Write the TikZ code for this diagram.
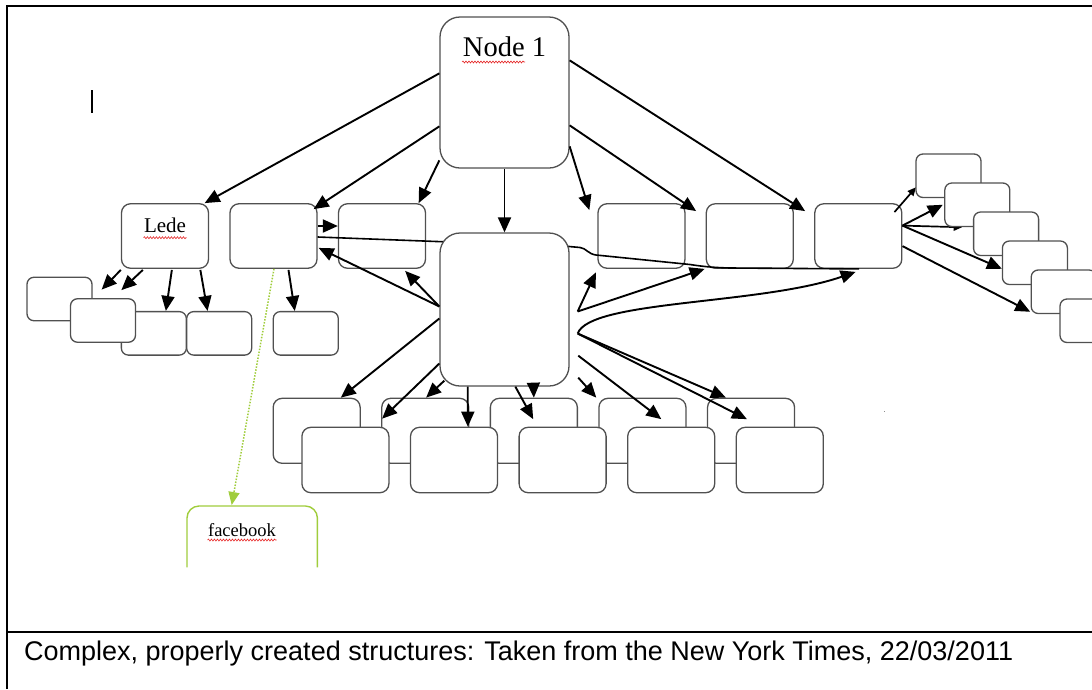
\documentclass[tikz,border=0pt]{standalone}
\usepackage{fontspec}
\setmainfont{Liberation Serif}
\newfontfamily\capfont{Liberation Sans}
\usetikzlibrary{arrows.meta,calc,decorations.pathmorphing}
\definecolor{boxgray}{RGB}{80,80,80}
\definecolor{fbgreen}{RGB}{160,205,60}
\definecolor{spellred}{RGB}{230,40,40}
\begin{document}
\begin{tikzpicture}[x=1pt,y=-1pt,
  box/.style={draw=boxgray,fill=white,line width=1.3pt,rounded corners=9pt,inner sep=0pt,
              minimum width=87pt,minimum height=64.5pt},
  sbox/.style={box,minimum width=65pt,minimum height=43.5pt,rounded corners=7pt},
  bigbox/.style={box,rounded corners=20pt,minimum width=129pt},
  arr/.style={line width=1.9pt,-{Triangle[length=15pt,width=13pt]}},
  sarr/.style={line width=1.7pt,-{Triangle[length=8.5pt,width=7.5pt]}},
  wavy/.style={spellred,line width=0.6pt,decorate,decoration={snake,amplitude=1pt,segment length=3pt}},
  frame/.style={line width=2.3pt,black},
]
\useasboundingbox (0,0) rectangle (1092,689);
\clip (0,0) rectangle (1092,689);

% frame and caption
\draw[frame] (7,689) -- (7,6) -- (1092,6);
\draw[frame] (7,632) -- (1092,632);
\node[anchor=base west,inner sep=0pt,font=\capfont\fontsize{27}{32}\selectfont] (caption) at (24,660)
  {Complex, properly created structures: Taken from the New York Times, 22/03/2011};
\draw[line width=1.8pt] (92,90) -- (92,113);
\fill[black!45] (883.5,410.5) rectangle (885,412);

% lede children and B child
\node[sbox] (l1) at (59.5,299) {};
\node[sbox] (l3) at (153.85,333.35) {};
\node[sbox] (l4) at (219.2,333.35) {};
\node[sbox] (l2) at (103,320.5) {};
\node[sbox] (bchild) at (305.8,333.35) {};

% top row
\node[box,label={[font=\fontsize{21}{24}\selectfont,anchor=base,yshift=-29.5pt,inner sep=0pt]north:Lede}] (lede) at (165,236) {};
\node[box] (nB) at (273.5,236) {};
\node[box] (nC) at (382,236) {};
\node[box] (nD) at (641.5,236) {};
\node[box] (nE) at (749.8,236) {};
\node[box] (nF) at (858.3,236) {};

% node 1
\node[bigbox,minimum height=151pt,label={[font=\fontsize{28.5}{32}\selectfont,anchor=base,yshift=-40.5pt,inner sep=0pt]north:Node 1}] (node1) at (504.5,92.5) {};

% bottom rows
\foreach \i/\x in {1/316.65,2/425.25,3/533.85,4/642.45,5/751.05}
  \node[box,minimum height=65pt] (br\i) at (\x,430.8) {};
\foreach \i/\x in {1/345.4,2/454,3/562.6,4/671.2,5/779.8}
  \node[box,minimum height=65.4pt] (fr\i) at (\x,460) {};

% spelling underlines
\draw[wavy] (462,62) -- (525,62);
\draw[wavy] (143.5,237.7) -- (186.5,237.7);

% long connector B -> F (passes behind the central node)
\draw[line width=1.6pt] ($(nB.east)+(0,1)$) -- (569,246.5) -- (580,247.5)
  .. controls (586,248) and (588,254) .. (596,255) -- (690,264.5)
  .. controls (700,266) and (710,267.5) .. (730,268) -- ($(nF.south west)+(45,0)$);

% central node
\node[bigbox,minimum height=153pt] (central) at (504.5,309.5) {};

% facebook box
\node[minimum width=130pt,minimum height=61pt,inner sep=0pt,anchor=north west] (fb) at (187,506) {};
\draw[fbgreen,line width=1.4pt,rounded corners=12pt] (fb.south west) -- (fb.north west) -- (fb.north east) -- (fb.south east);
\node[anchor=base,inner sep=0pt,font=\fontsize{18.5}{22}\selectfont] (fbtext) at (242,536.7) {facebook};
\draw[wavy] (207.5,540) -- (276.5,540);
\draw[fbgreen,line width=1.5pt,dash pattern=on 1.5pt off 1.5pt,-{Triangle[length=13pt,width=11pt]}]
  ($(nB.south)+(0.5,0)$) -- ($(fb.north west)+(44.7,-1)$);

% node 1 arrows
\draw[arr] ($(node1.north west)+(0,57)$) -- ($(lede.north east)+(-4.5,0)$);
\draw[arr] ($(node1.north west)+(0,110)$) -- ($(nB.north east)+(-4,6)$);
\draw[arr] ($(node1.north west)+(0,144)$) -- ($(nC.north east)+(-7.5,0)$);
\draw[arr] (node1.south) -- (central.north);
\draw[arr] ($(node1.north east)+(0,130)$) -- ($(nD.north west)+(-8,7)$);
\draw[arr] ($(node1.north east)+(0,109)$) -- ($(nE.north west)+(-9.5,8)$);
\draw[arr] ($(node1.north east)+(0,44)$) -- ($(nF.north west)+(-9,8)$);

% lede arrows
\draw[arr] ($(lede.south west)+(0,1)$) -- ($(l1.north east)+(9,13)$);
\draw[arr] ($(lede.south west)+(22,1)$) -- ($(l2.north west)+(51.5,-8)$);
\draw[arr] ($(lede.south west)+(51,1)$) -- ($(l3.north)+(12,0)$);
\draw[arr] ($(lede.south west)+(79.5,1)$) -- ($(l4.north west)+(21.5,0)$);

% B arrows
\draw[arr] ($(nB.east)+(0,-10)$) -- ($(nC.west)+(0,-10)$);
\draw[arr] ($(nB.south)+(15,1)$) -- ($(bchild.north)+(-11,0)$);

% central arrows
\draw[arr] ($(central.west)+(0,-3)$) -- ($(nB.south east)+(1,-21)$);
\draw[arr] ($(central.west)+(0,-3)$) -- ($(nC.south east)+(-21,2)$);
\draw[arr] ($(central.west)+(0,9)$) -- ($(br1.north east)+(-20,0)$);
\draw[arr] ($(central.west)+(0,54)$) -- ($(br2.north west)+(1,21)$);
\draw[arr] ($(central.south west)+(5,-6)$) -- ($(br2.north west)+(45,0)$);
\draw[arr] ($(central.south west)+(28.4,0)$) -- ($(fr2.north west)+(58,0)$);
\draw[arr] ($(central.south west)+(76,0)$) -- ($(br3.north west)+(43.5,21.5)$);
\draw[arr] ($(central.south)+(29,0)$) -- (br3.north);
\draw[arr] ($(central.south east)+(8.6,-9)$) -- ($(br4.north west)+(-2,0)$);
\draw[arr] ($(central.south east)+(8.6,-31)$) -- ($(br4.north west)+(63,21.5)$);
\draw[arr] ($(central.east)+(8,24)$) -- ($(br5.north west)+(19,0)$);
\draw[arr] ($(central.east)+(8,24)$) -- ($(br5.north west)+(40,21.5)$);
\draw[arr] ($(central.east)+(8,2)$) -- ($(nD.south west)+(-1.5,3.5)$);
\draw[arr] ($(central.east)+(8,2)$) -- ($(nE.south west)+(-1,0)$);
\draw[arr] ($(central.east)+(8,24)$) .. controls (590,300) and (760,305) .. ($(nF.south west)+(41.5,3)$);

% right stack positions (nodes drawn after the arrows)
\foreach \i in {1,...,6}
  \coordinate (rc\i) at ({948.5+28.8*(\i-1)},{175.75+29*(\i-1)});

% F arrows (to the west sides of the stacked boxes)
\draw[sarr] ($(nF.north east)+(-8,9)$) -- ($(rc1)+(-32.5,11.5)$);
\draw[arr] ($(nF.north east)+(0,22.5)$) -- ($(rc2)+(-34.5,0)$);
\draw[sarr] ($(nF.north east)+(0,22.5)$) -- ($(rc3)+(-44,-6.5)$);
\draw[arr] ($(nF.north east)+(0,22.5)$) -- ($(rc4)+(-33,6)$);
\draw[arr] ($(nF.north east)+(0,43)$) -- ($(rc5)+(-33.5,20)$);

% right stack
\foreach \i in {1,...,6}
  \node[sbox] (r\i) at (rc\i) {};
\end{tikzpicture}
\end{document}
